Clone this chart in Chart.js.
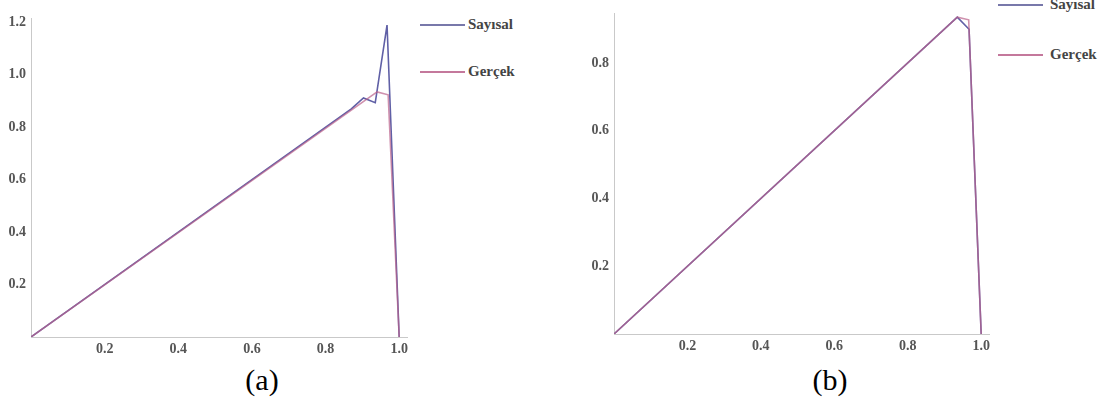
<!DOCTYPE html>
<html>
<head>
<meta charset="utf-8">
<script src="https://cdn.jsdelivr.net/npm/chart.js@4.4.0/dist/chart.umd.min.js"></script>
<style>
  html, body { margin: 0; padding: 0; background: #fff; }
  body { width: 1100px; height: 403px; position: relative; overflow: hidden; }
  .wrap { position: absolute; }
  .leg { position: absolute; font-family: "Liberation Serif", "Times New Roman", Tinos, "DejaVu Serif", serif; font-weight: bold; font-size: 15px; color: #444; white-space: nowrap; line-height: 16px; }
  .cap { position: absolute; font-family: "Liberation Serif", "Times New Roman", Tinos, "DejaVu Serif", serif; font-size: 30px; color: #000; transform: translate(-50%, -50%); line-height: 34px; }
</style>
</head>
<body>
<div class="wrap" id="wa" style="left:0px;top:0px;width:412px;height:362px;"><canvas id="ca"></canvas></div>
<div class="wrap" id="wb" style="left:583px;top:0px;width:411px;height:359px;"><canvas id="cb"></canvas></div>
<div id="legends"></div>
<div class="cap" style="left:262px;top:380px;">(a)</div>
<div class="cap" style="left:830px;top:380px;">(b)</div>
<script>
// ---- data ----
const seriesNames = ["Sayısal", "Gerçek"];
const xTicks = [0.2, 0.4, 0.6, 0.8, 1.0];
const yTicksA = [0.2, 0.4, 0.6, 0.8, 1.0, 1.2];
const yTicksB = [0.2, 0.4, 0.6, 0.8];

// chart (a)
const aSayX = [0, 0.87, 0.903, 0.935, 0.967, 1.0];
const aSayY = [0, 0.87, 0.912, 0.894, 1.19, 0];
const aGerX = [0, 0.94, 0.97, 1.0];
const aGerY = [0, 0.935, 0.924, 0];

// chart (b)
const bSayX = [0, 0.935, 0.967, 1.0];
const bSayY = [0, 0.936, 0.90, 0];
const bGerX = [0, 0.935, 0.966, 1.0];
const bGerY = [0, 0.936, 0.928, 0];

const colSay = "rgb(96,96,166)";
const colGer = "rgba(186,98,140,0.7)";
const serifStack = '"Liberation Serif", "Times New Roman", Tinos, "DejaVu Serif", serif';

function pts(xs, ys) { return xs.map((x, i) => ({ x: x, y: ys[i] })); }

function makeChart(id, say, ger, yTicks, xMax, yMax, padTop) {
  const tickFont = { family: serifStack, size: 14, weight: "bold" };
  return new Chart(document.getElementById(id), {
    type: "line",
    data: {
      datasets: [
        { label: seriesNames[1], data: ger, borderColor: colGer, borderWidth: 1.6, pointRadius: 0, tension: 0, fill: false },
        { label: seriesNames[0], data: say, borderColor: colSay, borderWidth: 1.6, pointRadius: 0, tension: 0, fill: false }
      ]
    },
    options: {
      responsive: true,
      maintainAspectRatio: false,
      animation: false,
      events: [],
      layout: { padding: { left: 0, right: 3, top: padTop, bottom: 0 } },
      plugins: { legend: { display: false }, tooltip: { enabled: false } },
      scales: {
        x: {
          type: "linear", min: 0, max: xMax,
          grid: { display: false, drawTicks: false },
          border: { display: true, color: "#c9c9c9", width: 1 },
          afterBuildTicks: s => { s.ticks = xTicks.map(v => ({ value: v })); },
          afterFit: s => { s.height = 25; },
          ticks: { padding: 4, color: "#555", font: tickFont, maxRotation: 0, autoSkip: false,
                   callback: v => Number(v).toFixed(1) }
        },
        y: {
          type: "linear", min: 0, max: yMax,
          grid: { display: false, drawTicks: false },
          border: { display: true, color: "#c9c9c9", width: 1 },
          afterBuildTicks: s => { s.ticks = yTicks.map(v => ({ value: v })); },
          afterFit: s => { s.width = 31; },
          ticks: { padding: 5, color: "#555", font: tickFont, autoSkip: false,
                   callback: v => Number(v).toFixed(1) }
        }
      }
    }
  });
}

makeChart("ca", pts(aSayX, aSayY), pts(aGerX, aGerY), yTicksA, 1.022, 1.217, 18);
makeChart("cb", pts(bSayX, bSayY), pts(bGerX, bGerY), yTicksB, 1.024, 0.947, 0);

// legends (HTML)
const legendSpecs = [
  { lineLeft: 420, textLeft: 468, ys: [25, 72] },
  { lineLeft: 998, textLeft: 1050, ys: [5, 55] }
];
const legCols = ["rgb(120,120,170)", "rgb(196,120,156)"];
const host = document.getElementById("legends");
legendSpecs.forEach(sp => {
  seriesNames.forEach((name, i) => {
    const ln = document.createElement("div");
    ln.className = "leg";
    ln.style.left = sp.lineLeft + "px";
    ln.style.top = (sp.ys[i] - 1) + "px";
    ln.style.width = "45px"; ln.style.height = "2px"; ln.style.background = legCols[i];
    host.appendChild(ln);
    const tx = document.createElement("div");
    tx.className = "leg";
    tx.textContent = name;
    tx.style.left = sp.textLeft + "px";
    tx.style.top = (sp.ys[i] - 9) + "px";
    host.appendChild(tx);
  });
});
</script>
</body>
</html>
